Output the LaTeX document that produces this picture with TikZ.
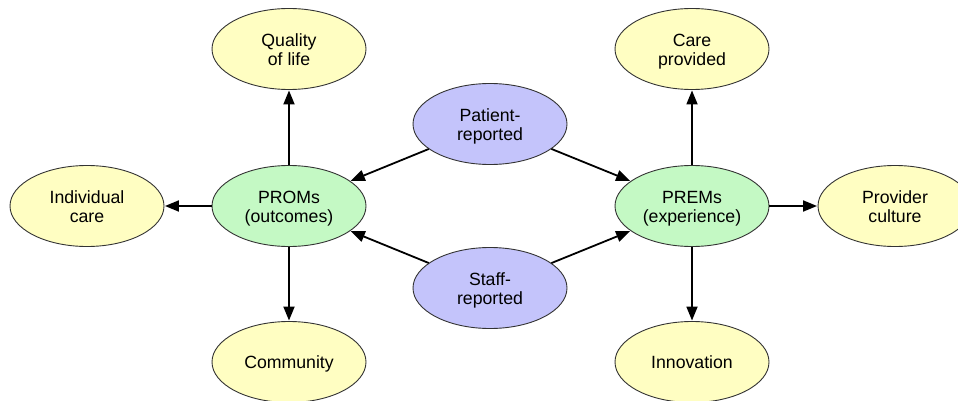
\documentclass[tikz,border=0pt]{standalone}
\usepackage{fontspec}
\setmainfont{Liberation Sans}
\usetikzlibrary{shapes.geometric,arrows.meta}
\definecolor{ylw}{HTML}{FFFEC2}
\definecolor{grn}{HTML}{C4F9C4}
\definecolor{prp}{HTML}{C4C4FB}
\definecolor{edge}{HTML}{333333}
\newcommand{\ovaltext}[1]{\begin{tabular}{@{}c@{}}\rule{0pt}{19.6pt}#1\end{tabular}}
\tikzset{
  oval/.style={ellipse, draw=edge, line width=0.9pt, minimum width=154pt, minimum height=81pt,
    inner sep=0pt, align=center, font=\fontsize{17.7}{19.5}\selectfont},
  yel/.style={oval, fill=ylw},
  gre/.style={oval, fill=grn},
  pur/.style={oval, fill=prp},
  conn/.style={line width=1.8pt, -{Triangle[length=14pt,width=11pt]}, shorten >=0.5pt}
}
\begin{document}
\begin{tikzpicture}[x=1pt,y=-1pt]
\useasboundingbox (0,0) rectangle (958,401);
\node[yel] (qol) at (289,49) {\ovaltext{Quality\\of life}};
\node[yel] (care) at (692,49) {\ovaltext{Care\\provided}};
\node[pur] (pat) at (490,124) {\ovaltext{Patient-\\reported}};
\node[yel] (ind) at (87,206) {\ovaltext{Individual\\care}};
\node[gre] (proms) at (289,206) {\ovaltext{PROMs\\(outcomes)}};
\node[gre] (prems) at (692,206) {\ovaltext{PREMs\\(experience)}};
\node[yel] (prov) at (895,206) {\ovaltext{Provider\\culture}};
\node[pur] (staff) at (490,288) {\ovaltext{Staff-\\reported}};
\node[yel] (comm) at (289,362) {\ovaltext{Community}};
\node[yel] (inno) at (692,362) {\ovaltext{Innovation}};
\draw[conn] (proms) -- (qol);
\draw[conn] (proms) -- (ind);
\draw[conn] (proms) -- (comm);
\draw[conn] (prems) -- (care);
\draw[conn] (prems) -- (prov);
\draw[conn] (prems) -- (inno);
\draw[conn] (pat) -- (proms);
\draw[conn] (pat) -- (prems);
\draw[conn] (staff) -- (proms);
\draw[conn] (staff) -- (prems);
\end{tikzpicture}
\end{document}
